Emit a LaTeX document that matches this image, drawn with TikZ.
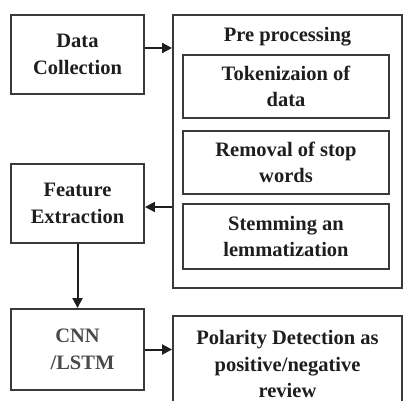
\documentclass[tikz,border=0pt]{standalone}
\usepackage{fontspec}
\setmainfont{Liberation Serif}
\usetikzlibrary{arrows.meta}
\definecolor{edge}{HTML}{3A3A3A}
\definecolor{ink}{HTML}{1E1E1E}
\definecolor{softink}{HTML}{4A4A4A}
\tikzset{
  outerbox/.style={draw=edge, line width=1.9pt, fill=white, inner sep=0pt},
  innerbox/.style={draw=edge, line width=1.4pt, fill=white, inner sep=0pt},
  txt/.style={text=ink, font=\fontsize{20.5}{26.5}\selectfont\bfseries, align=center},
  arr/.style={draw=ink, line width=2pt, -{Triangle[length=10pt,width=10pt]}}
}
\begin{document}
\begin{tikzpicture}[x=1pt,y=-1pt]
\useasboundingbox[fill=white] (0,0) rectangle (404,401);

% left column
\node[outerbox, txt, minimum width=133pt, minimum height=79pt] (dc) at (77.5,54.5) {Data\\Collection};
\node[outerbox, txt, minimum width=133pt, minimum height=79pt] (fe) at (77.5,203.5) {Feature\\Extraction};
\node[outerbox, txt, text=softink, minimum width=133pt, minimum height=81pt] (cnn) at (77.5,349.5) {CNN\\\hspace*{10pt}/LSTM};

% pre-processing group
\node[outerbox, minimum width=229pt, minimum height=273pt] (pre) at (287.5,151.5) {};
\node[txt] (pretitle) at (287.5,37) {Pre processing};
\node[innerbox, txt, minimum width=206pt, minimum height=63pt] (tok) at (286,86.5) {Tokenizaion of\\data};
\node[innerbox, txt, minimum width=206pt, minimum height=63pt] (rem) at (286,162.5) {Removal of stop\\words};
\node[innerbox, txt, minimum width=206pt, minimum height=65pt] (stem) at (286,236.5) {Stemming an\\lemmatization};

% output box, running past the lower edge
\node[outerbox, txt, minimum width=229pt, minimum height=96pt] (pol) at (287.5,364) {Polarity Detection as\\positive/negative\\review};

% connectors
\draw[arr] ([yshift=6.5pt]dc.east) -- ([yshift=6.5pt]dc.east -| pre.west);
\draw[arr] ([yshift=-3.5pt]fe.east -| pre.west) -- ([yshift=-3.5pt]fe.east);
\draw[arr] (fe.south) -- (cnn.north);
\draw[arr] (cnn.east) -- (cnn.east -| pol.west);
\end{tikzpicture}
\end{document}
